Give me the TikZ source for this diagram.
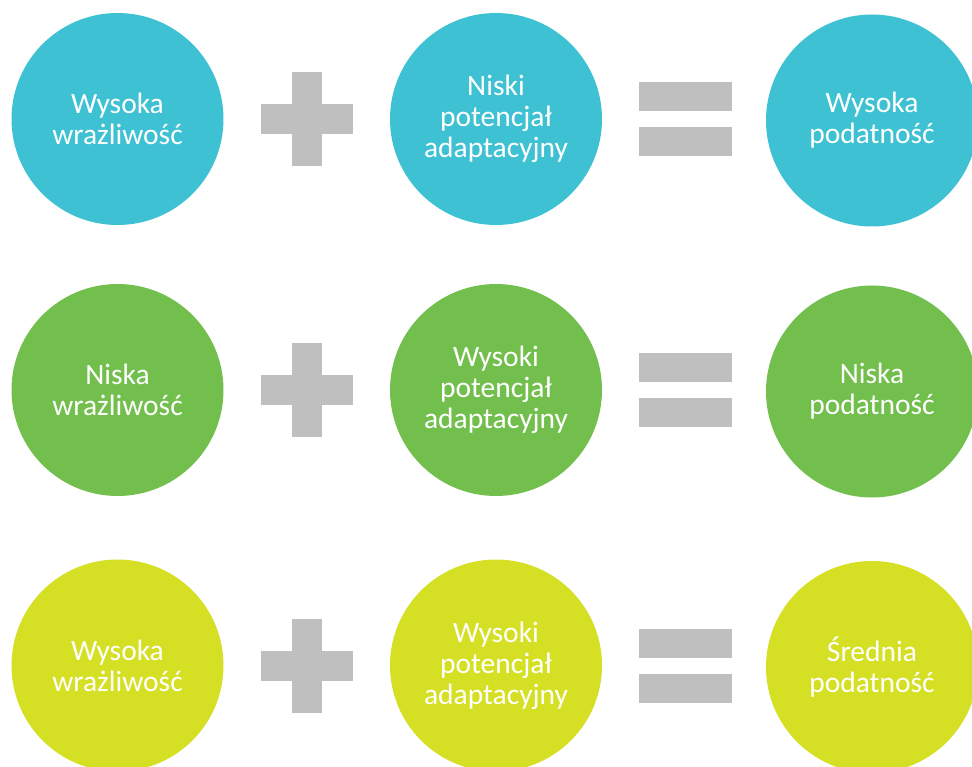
\documentclass[tikz,border=0pt]{standalone}
\usepackage{fontspec}
\setmainfont{Carlito}
\usepackage{tikz}

\definecolor{highcyan}{HTML}{3EC1D3}
\definecolor{lowgreen}{HTML}{72BF4E}
\definecolor{midlime}{HTML}{D5DF24}
\definecolor{signgray}{HTML}{BFBFBF}

\begin{document}
\begin{tikzpicture}[
		x=1pt, y=-1pt,
		every node/.style={circle, minimum size=212pt, inner sep=0pt, text=white, align=center,
			font=\fontsize{29.5}{31}\selectfont},
		bar/.style={rectangle, fill=signgray, minimum size=0pt}
	]
  \useasboundingbox (0,0) rectangle (972,767);
  \clip (0,0) rectangle (972,767);
  % first row
  \node (s_a) [fill=highcyan] at (117.5,119) {Wysoka\\wrażliwość};
  \node (p_a) [fill=highcyan] at (496,119) {Niski\\potencjał\\adaptacyjny};
  \node (r_a) [fill=highcyan] at (872,120.5) {Wysoka\\podatność};
  \node (plus_a_h) [bar, minimum width=92pt, minimum height=30pt] at (307,119) {};
  \node (plus_a_v) [bar, minimum width=30pt, minimum height=94pt] at (307,119) {};
  \node (eq_a_top) [bar, minimum width=93pt, minimum height=29pt] at (685,96.5) {};
  \node (eq_a_bot) [bar, minimum width=93pt, minimum height=29pt] at (685,141.5) {};
  % second row
  \node (s_b) [fill=lowgreen] at (117.5,390) {Niska\\wrażliwość};
  \node (p_b) [fill=lowgreen] at (496,390) {Wysoki\\potencjał\\adaptacyjny};
  \node (r_b) [fill=lowgreen] at (872,391.5) {Niska\\podatność};
  \node (plus_b_h) [bar, minimum width=92pt, minimum height=30pt] at (307,390) {};
  \node (plus_b_v) [bar, minimum width=30pt, minimum height=94pt] at (307,390) {};
  \node (eq_b_top) [bar, minimum width=93pt, minimum height=29pt] at (685,367.5) {};
  \node (eq_b_bot) [bar, minimum width=93pt, minimum height=29pt] at (685,412.5) {};
  % third row
  \node (s_c) [fill=midlime] at (117.5,665.5) {Wysoka\\wrażliwość};
  \node (p_c) [fill=midlime] at (496,665.5) {Wysoki\\potencjał\\adaptacyjny};
  \node (r_c) [fill=midlime] at (872,667) {Średnia\\podatność};
  \node (plus_c_h) [bar, minimum width=92pt, minimum height=30pt] at (307,665.5) {};
  \node (plus_c_v) [bar, minimum width=30pt, minimum height=94pt] at (307,665.5) {};
  \node (eq_c_top) [bar, minimum width=93pt, minimum height=29pt] at (685,643) {};
  \node (eq_c_bot) [bar, minimum width=93pt, minimum height=29pt] at (685,688) {};
\end{tikzpicture}
\end{document}
